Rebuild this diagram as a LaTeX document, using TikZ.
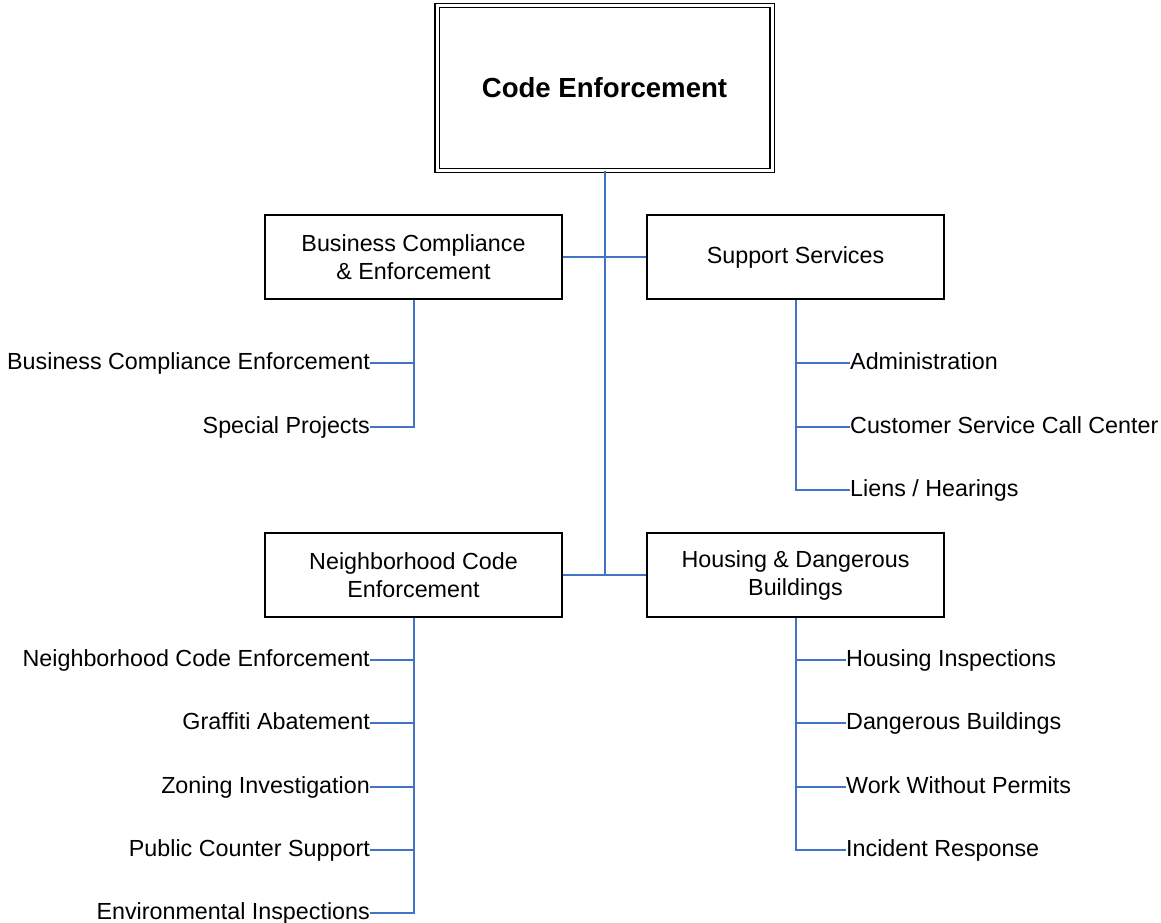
\documentclass[tikz,border=0pt]{standalone}
\usepackage{fontspec}
\setmainfont{Liberation Sans}
\definecolor{connblue}{RGB}{68,114,196}
\tikzset{
  box/.style={draw=black, line width=1.4pt, fill=white, inner sep=0pt,
    minimum width=297, minimum height=84, align=center,
    font=\fontsize{23.3}{28}\selectfont},
  topbox/.style={draw=black, double=white, double distance=3pt, line width=1.1pt,
    inner sep=0pt, minimum width=335, minimum height=165,
    font=\fontsize{27.6}{32}\selectfont\bfseries},
  leaf/.style={inner sep=0pt, text height=12.2pt, text depth=0pt,
    font=\fontsize{23.3}{28}\selectfont},
  conn/.style={draw=connblue, line width=2pt}
}
\begin{document}
\begin{tikzpicture}[x=1pt,y=-1pt]
\useasboundingbox (0,0) rectangle (1161,922);

\node[topbox] (top) at (604.5,87.8) {Code Enforcement};

\node[box] (bc) at (413.5,257) {Business Compliance\\\& Enforcement};
\node[box] (ss) at (795.5,257) {Support Services};
\node[box] (nce) at (413.5,575) {Neighborhood Code\\Enforcement};
\node[box] (hdb) at (795.5,575) {Housing \& Dangerous\\Buildings};

% leaves
\node[leaf, anchor=east] (l1) at (370,363) {Business Compliance Enforcement};
\node[leaf, anchor=east] (l2) at (370,427) {Special Projects};

\node[leaf, anchor=west] (r1) at (850,363) {Administration};
\node[leaf, anchor=west] (r2) at (850,427) {Customer Service Call Center};
\node[leaf, anchor=west] (r3) at (850,490) {Liens / Hearings};

\node[leaf, anchor=east] (n1) at (370,660) {Neighborhood Code Enforcement};
\node[leaf, anchor=east] (n2) at (370,723) {Graffiti Abatement};
\node[leaf, anchor=east] (n3) at (370,787) {Zoning Investigation};
\node[leaf, anchor=east] (n4) at (370,850) {Public Counter Support};
\node[leaf, anchor=east] (n5) at (370,913) {Environmental Inspections};

\node[leaf, anchor=west] (h1) at (846,660) {Housing Inspections};
\node[leaf, anchor=west] (h2) at (846,723) {Dangerous Buildings};
\node[leaf, anchor=west] (h3) at (846,787) {Work Without Permits};
\node[leaf, anchor=west] (h4) at (846,850) {Incident Response};

% connectors
\draw[conn] (top.south) -- (top.south |- nce.east);
\draw[conn] (bc.east) -- (ss.west);
\draw[conn] (nce.east) -- (hdb.west);

\foreach \c in {l1,l2} \draw[conn] (\c.east) -| (bc.south);
\foreach \c in {r1,r2,r3} \draw[conn] (\c.west) -| (ss.south);
\foreach \c in {n1,n2,n3,n4,n5} \draw[conn] (\c.east) -| (nce.south);
\foreach \c in {h1,h2,h3,h4} \draw[conn] (\c.west) -| (hdb.south);
\end{tikzpicture}
\end{document}
